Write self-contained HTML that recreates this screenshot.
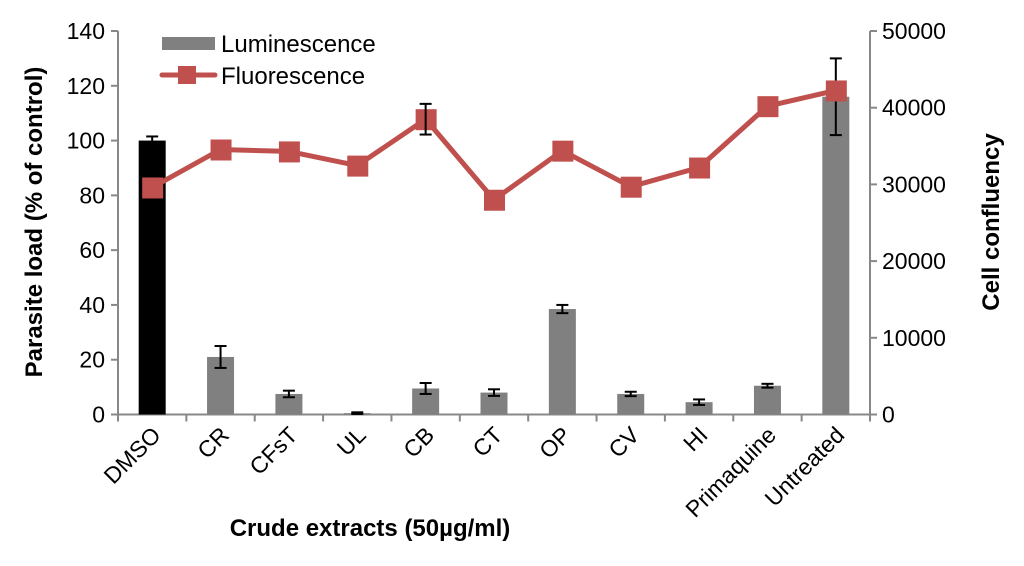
<!DOCTYPE html>
<html><head><meta charset="utf-8"><style>
html,body{margin:0;padding:0;background:#fff;}
svg{display:block;font-family:"Liberation Sans",Arial,sans-serif;}
</style></head><body>
<svg id="chart" width="1024" height="566">
</svg>
<script>
const categories=["DMSO","CR","CFsT","UL","CB","CT","OP","CV","HI","Primaquine","Untreated"];
const lumValues=[100,21,7.5,0.5,9.5,8,38.5,7.5,4.5,10.5,116];
const lumErrors=[1.5,4,1.2,0.3,2,1.2,1.5,0.8,1,0.7,14];
const fluoValues=[29600,34550,34300,32450,38500,28000,34400,29700,32200,40200,42250];
const fluoErrors=[0,0,0,0,2000,0,0,0,0,0,0];
const leftTicks=[0,20,40,60,80,100,120,140];
const rightTicks=[0,10000,20000,30000,40000,50000];
const NS="http://www.w3.org/2000/svg";
const svg=document.getElementById('chart');
const X0=118,X1=870,Y0=414.5,Y1=31;
const step=(X1-X0)/categories.length;
const xc=i=>X0+step*(i+0.5);
const yl=v=>Y0-(v/140)*(Y0-Y1);
const yr=v=>Y0-(v/50000)*(Y0-Y1);
function mk(tag,attrs,parent){const e=document.createElementNS(NS,tag);for(const k in attrs)e.setAttribute(k,attrs[k]);(parent||svg).appendChild(e);return e;}
let a=mk('line',{x1:X0,y1:Y1,x2:X0,y2:Y0,stroke:'#888','stroke-width':2});


a=mk('line',{x1:X1,y1:Y1,x2:X1,y2:Y0,stroke:'#888','stroke-width':2});


a=mk('line',{x1:X0,y1:Y0,x2:X1,y2:Y0,stroke:'#888','stroke-width':2});


leftTicks.forEach(t=>{
  mk('line',{x1:X0-7,y1:yl(t),x2:X0,y2:yl(t),stroke:'#888','stroke-width':2});
  const tx=mk('text',{x:X0-13,y:yl(t)+8,'text-anchor':'end','font-size':23});
  tx.textContent=t;
  
  
});
rightTicks.forEach(t=>{
  mk('line',{x1:X1,y1:yr(t),x2:X1+7,y2:yr(t),stroke:'#888','stroke-width':2});
  const tx=mk('text',{x:X1+12,y:yr(t)+8,'text-anchor':'start','font-size':23});
  tx.textContent=t;
  
  
});
for(let i=0;i<=categories.length;i++){mk('line',{x1:X0+step*i,y1:Y0,x2:X0+step*i,y2:Y0+7,stroke:'#888','stroke-width':2});}
categories.forEach((c,i)=>{
  const v=lumValues[i];
  const r=mk('rect',{x:xc(i)-13.5,y:yl(v),width:27,height:Y0-yl(v),fill:i===0?'#000':'#808080'});
  
  
  const e=lumErrors[i];
  const g=mk('g',{stroke:'#000','stroke-width':2});
  
  
  mk('line',{x1:xc(i),y1:yl(v+e),x2:xc(i),y2:yl(Math.max(0,v-e))},g);
  mk('line',{x1:xc(i)-6,y1:yl(v+e),x2:xc(i)+6,y2:yl(v+e)},g);
  mk('line',{x1:xc(i)-6,y1:yl(Math.max(0,v-e)),x2:xc(i)+6,y2:yl(Math.max(0,v-e))},g);
  const tx=mk('text',{transform:`translate(${xc(i)+10},${Y0+22}) rotate(-45)`,'text-anchor':'end','font-size':23});
  tx.textContent=c;
  
  
});
const pts=fluoValues.map((v,i)=>xc(i)+','+yr(v)).join(' ');
const pl=mk('polyline',{points:pts,fill:'none',stroke:'#c0504d','stroke-width':5,'stroke-linejoin':'round'});


fluoValues.forEach((v,i)=>{
  const m=mk('rect',{x:xc(i)-10,y:yr(v)-10,width:21,height:21,fill:'#c0504d'});
  
  
  const e=fluoErrors[i];
  if(e>0){
    const g=mk('g',{stroke:'#000','stroke-width':2});
    
    
    mk('line',{x1:xc(i),y1:yr(v+e),x2:xc(i),y2:yr(v-e)},g);
    mk('line',{x1:xc(i)-6,y1:yr(v+e),x2:xc(i)+6,y2:yr(v+e)},g);
    mk('line',{x1:xc(i)-6,y1:yr(v-e),x2:xc(i)+6,y2:yr(v-e)},g);
  }
});
</script>
<svg style="position:absolute;left:0;top:0" width="1024" height="566">
<g font-family="Liberation Sans, Arial, sans-serif">
<rect x="162" y="37" width="53" height="13" fill="#808080"/>
<text x="221" y="52" font-size="24">Luminescence</text>
<line x1="162" y1="75" x2="215" y2="75" stroke="#c0504d" stroke-width="5" stroke-linecap="round"/>
<rect x="178" y="66" width="18" height="18" fill="#c0504d"/>
<text x="221" y="84" font-size="24">Fluorescence</text>
<text transform="translate(42,222) rotate(-90)" text-anchor="middle" font-size="24" font-weight="bold">Parasite load (% of control)</text>
<text transform="translate(999,222) rotate(-90)" text-anchor="middle" font-size="24" font-weight="bold">Cell confluency</text>
<text x="370" y="536" text-anchor="middle" font-size="24" font-weight="bold">Crude extracts (50µg/ml)</text>
</g>
</svg>
</body></html>
